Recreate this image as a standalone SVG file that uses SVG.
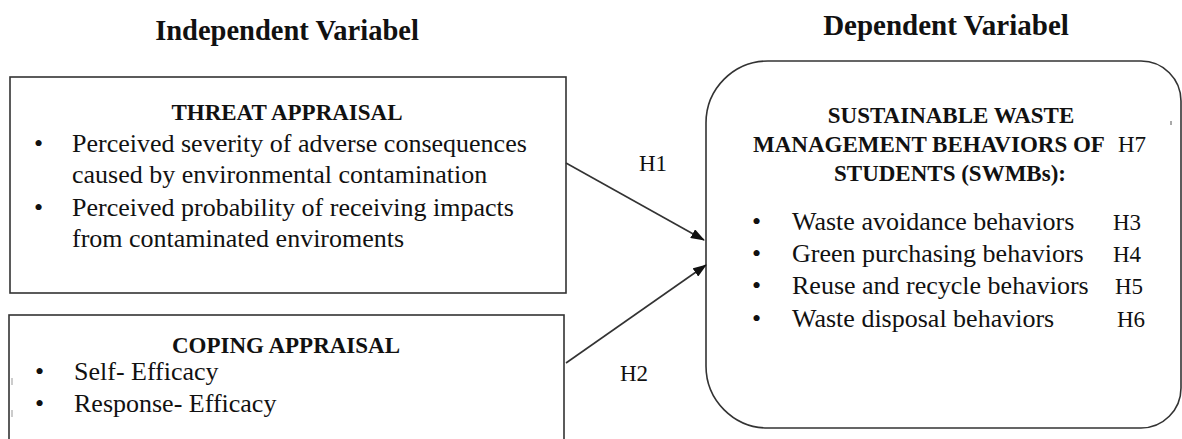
<svg xmlns="http://www.w3.org/2000/svg" width="1182" height="439" viewBox="0 0 1182 439">
<style>
  .box { fill: #ffffff; stroke: #333333; stroke-width: 1.6; }
  .title { font-family: "Liberation Serif", "Times New Roman", serif; font-weight: bold; fill: #111111; }
  .head { font-family: "Liberation Serif", "Times New Roman", serif; font-weight: bold; font-size: 23px; fill: #111111; }
  .body { font-family: "Liberation Serif", "Times New Roman", serif; font-size: 26px; fill: #111111; }
  .lbl { font-family: "Liberation Serif", "Times New Roman", serif; font-size: 23px; fill: #111111; }
  .conn { stroke: #333333; stroke-width: 1.6; fill: none; marker-end: url(#arrow); }
  .tick { stroke: #aaaaaa; stroke-width: 1.2; }
</style>
<defs>
  <marker id="arrow" markerWidth="14" markerHeight="10" refX="13" refY="5" orient="auto" markerUnits="userSpaceOnUse">
    <path d="M0,0 L14,5 L0,10 Z" fill="#111111"/>
  </marker>
</defs>
<rect width="1182" height="439" fill="#ffffff"/>

<g id="title-independent">
  <text class="title" x="287" y="40" font-size="28.5" text-anchor="middle">Independent Variabel</text>
</g>
<g id="title-dependent">
  <text class="title" x="946" y="35" font-size="29" text-anchor="middle">Dependent Variabel</text>
</g>

<g id="threat-appraisal">
  <rect class="box" x="10" y="77" width="556" height="216"/>
  <text class="head" x="287" y="120" text-anchor="middle">THREAT APPRAISAL</text>
  <text class="body" x="34" y="152">•</text>
  <text class="body" x="72" y="152">Perceived severity of adverse consequences</text>
  <text class="body" x="72" y="183">caused by environmental contamination</text>
  <text class="body" x="34" y="216">•</text>
  <text class="body" x="72" y="216">Perceived probability of receiving impacts</text>
  <text class="body" x="72" y="247">from contaminated enviroments</text>
</g>

<g id="coping-appraisal">
  <rect class="box" x="9" y="315" width="555" height="200"/>
  <line class="tick" x1="12" y1="378" x2="12" y2="385"/>
  <line class="tick" x1="12" y1="410" x2="12" y2="417"/>
  <text class="head" x="286" y="353" text-anchor="middle">COPING APPRAISAL</text>
  <text class="body" x="35" y="380">•</text>
  <text class="body" x="74" y="380">Self- Efficacy</text>
  <text class="body" x="35" y="412">•</text>
  <text class="body" x="74" y="412">Response- Efficacy</text>
</g>

<g id="swmb">
  <path class="box" d="M768,61 H1141 A40,40 0 0 1 1181,101 V388 A40,40 0 0 1 1141,428 H768 A62,62 0 0 1 706,366 V123 A62,62 0 0 1 768,61 Z"/>
  <line x1="1171" y1="121" x2="1171" y2="125" stroke="#555555" stroke-width="1"/>
  <text class="head" x="951" y="123" text-anchor="middle">SUSTAINABLE WASTE</text>
  <text class="head" x="753" y="152">MANAGEMENT BEHAVIORS OF</text>
  <text class="lbl" x="1118" y="152">H7</text>
  <text class="head" x="950" y="181" text-anchor="middle">STUDENTS (SWMBs):</text>
  <text class="body" x="752" y="230">•</text>
  <text class="body" x="792" y="230">Waste avoidance behaviors</text>
  <text class="lbl" x="1113" y="230">H3</text>
  <text class="body" x="752" y="262">•</text>
  <text class="body" x="792" y="262">Green purchasing behaviors</text>
  <text class="lbl" x="1113" y="262">H4</text>
  <text class="body" x="752" y="294">•</text>
  <text class="body" x="792" y="294">Reuse and recycle behaviors</text>
  <text class="lbl" x="1115" y="294">H5</text>
  <text class="body" x="752" y="327">•</text>
  <text class="body" x="792" y="327">Waste disposal behaviors</text>
  <text class="lbl" x="1117" y="327">H6</text>
</g>

<g id="connectors">
  <line class="conn" x1="566" y1="163" x2="704" y2="240"/>
  <line class="conn" x1="566" y1="363" x2="706" y2="265"/>
  <text class="lbl" x="639" y="171">H1</text>
  <text class="lbl" x="620" y="381">H2</text>
</g>
</svg>
